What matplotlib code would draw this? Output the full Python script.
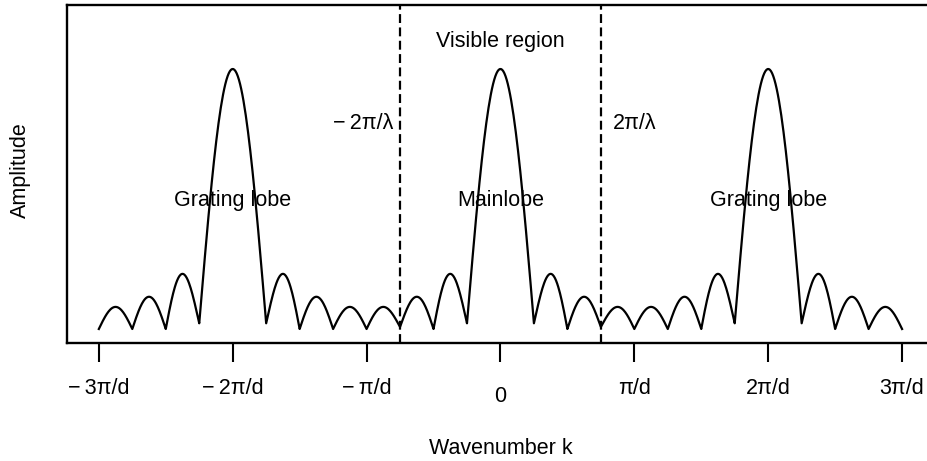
import numpy as np
import matplotlib.pyplot as plt
import matplotlib.transforms as mtransforms

plt.rcParams['font.family'] = ['Liberation Sans', 'DejaVu Sans']

# wavenumber axis in units of pi/d
null_k = [-3.0, -2.75, -2.5, -2.25, -1.75, -1.5, -1.25, -1.0, -0.75, -0.5, -0.25,
          0.25, 0.5, 0.75, 1.0, 1.25, 1.5, 1.75, 2.25, 2.5, 2.75, 3.0]
null_amp = [0.0, 0.0, 0.0, 0.022, 0.022, 0.0, 0.0, 0.0, 0.008, 0.0, 0.022,
            0.022, 0.0, 0.008, 0.0, 0.0, 0.0, 0.022, 0.022, 0.0, 0.0, 0.0]
lobe_peak = [0.085, 0.124, 0.212, 1.0, 0.212, 0.124, 0.085,
             0.085, 0.124, 0.212, 1.0, 0.212, 0.124, 0.085,
             0.085, 0.124, 0.212, 1.0, 0.212, 0.124, 0.085]

tick_pos = [-3, -2, -1, 0, 1, 2, 3]
tick_lab = ['\u2212\u20093\u03c0/d', '\u2212\u20092\u03c0/d', '\u2212\u2009\u03c0/d', '0',
            '\u03c0/d', '2\u03c0/d', '3\u03c0/d']
visible_k = 0.75


def main():
	# build the curve lobe by lobe between the nulls
	xs = []
	ys = []
	for i in range(len(lobe_peak)):
		a, b = null_k[i], null_k[i + 1]
		t = np.linspace(0, 1, 60)
		base = null_amp[i] + (null_amp[i + 1] - null_amp[i]) * t
		xs.append(a + (b - a) * t)
		ys.append(base + (lobe_peak[i] - base) * np.sin(np.pi * t))
	x = np.concatenate(xs)
	y = np.concatenate(ys)

	fig = plt.figure(figsize=(9.28, 4.61), dpi=100)
	ax = fig.add_axes([66.7 / 928, (461 - 343.3) / 461, 867.5 / 928, 338.3 / 461])

	ax.plot(x, y, color='black', lw=1.6)
	for kv in (-visible_k, visible_k):
		ax.axvline(kv, color='black', lw=1.6, ls=(0, (4, 2)))

	ax.set_xlim(-3.24, 3.24)
	ax.set_ylim(-0.055, 1.246)

	fs = 15.5
	ax.text(0, 1.105, 'Visible region', ha='center', va='center', fontsize=fs)
	ax.text(-0.80, 0.792, '\u2212\u20092\u03c0/\u03bb', ha='right', va='center', fontsize=fs)
	ax.text(0.843, 0.792, '2\u03c0/\u03bb', ha='left', va='center', fontsize=fs)
	ax.text(-2, 0.496, 'Grating lobe', ha='center', va='center', fontsize=fs)
	ax.text(0, 0.496, 'Mainlobe', ha='center', va='center', fontsize=fs)
	ax.text(2, 0.496, 'Grating lobe', ha='center', va='center', fontsize=fs)

	for s in ['left', 'top', 'bottom', 'right']:
		ax.spines[s].set_linewidth(1.7)
	ax.set_yticks([])
	ax.set_xticks(tick_pos)
	ax.set_xticklabels(tick_lab, fontsize=fs)
	ax.tick_params(axis='x', direction='out', length=14, width=1.5, pad=11)
	# the zero label sits a little lower
	lab0 = ax.get_xticklabels()[3]
	lab0.set_transform(lab0.get_transform() + mtransforms.ScaledTranslation(0, -8 / 100, fig.dpi_scale_trans))

	ax.set_xlabel('Wavenumber k', fontsize=fs, va='center')
	ax.xaxis.set_label_coords(0.5, -0.3095)
	ax.set_ylabel('Amplitude', fontsize=fs, va='center')
	ax.yaxis.set_label_coords(-0.0535, 0.512)

	fig.savefig('out.png', dpi=100)


if __name__ == "__main__":
	main()
